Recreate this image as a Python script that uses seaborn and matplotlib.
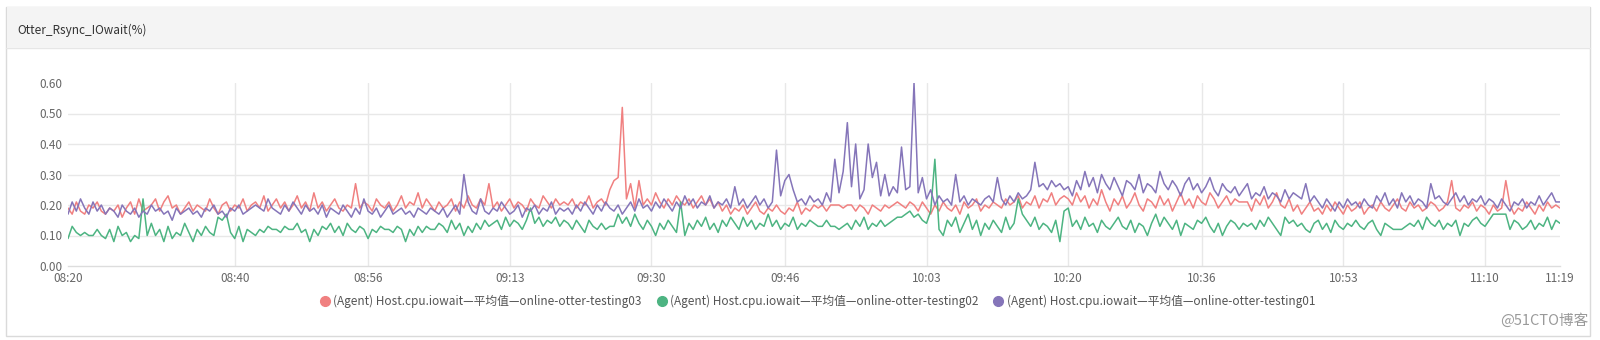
import numpy as np
import pandas as pd
import matplotlib
matplotlib.use("Agg")
import matplotlib.pyplot as plt
from matplotlib.patches import Rectangle
from matplotlib.lines import Line2D
import seaborn as sns

# ---------------- data ----------------
title = "Otter_Rsync_IOwait(%)"
start_time = "2019-01-01 08:20:00"
step_seconds = 30

series_names = [
    "(Agent) Host.cpu.iowait—平均值—online-otter-testing03",
    "(Agent) Host.cpu.iowait—平均值—online-otter-testing02",
    "(Agent) Host.cpu.iowait—平均值—online-otter-testing01",
]
series_colors = ["#F08080", "#4DB482", "#8575B9"]

testing03 = [
    0.19,0.17,0.21,0.18,0.17,0.20,0.19,0.21,0.18,0.17,
    0.19,0.18,0.20,0.16,0.19,0.21,0.17,0.22,0.18,0.19,
    0.20,0.22,0.18,0.21,0.23,0.19,0.20,0.17,0.19,0.21,
    0.18,0.20,0.19,0.18,0.22,0.19,0.17,0.20,0.21,0.18,
    0.20,0.19,0.22,0.18,0.20,0.21,0.19,0.23,0.18,0.20,
    0.22,0.19,0.21,0.18,0.20,0.23,0.19,0.21,0.18,0.24,
    0.19,0.21,0.18,0.20,0.22,0.19,0.18,0.20,0.19,0.27,
    0.19,0.21,0.20,0.18,0.22,0.20,0.19,0.21,0.18,0.20,
    0.23,0.19,0.21,0.20,0.24,0.19,0.22,0.20,0.18,0.21,
    0.19,0.20,0.22,0.18,0.21,0.19,0.23,0.20,0.19,0.22,
    0.20,0.27,0.19,0.21,0.18,0.20,0.22,0.19,0.21,0.20,
    0.18,0.22,0.20,0.19,0.23,0.21,0.19,0.22,0.20,0.21,
    0.20,0.22,0.19,0.21,0.20,0.23,0.19,0.21,0.22,0.20,
    0.25,0.28,0.29,0.52,0.22,0.27,0.19,0.28,0.20,0.22,
    0.20,0.24,0.21,0.19,0.22,0.20,0.23,0.21,0.20,0.22,
    0.19,0.21,0.23,0.20,0.22,0.19,0.21,0.18,0.20,0.17,
    0.19,0.18,0.20,0.17,0.19,0.21,0.18,0.17,0.19,0.18,
    0.20,0.18,0.17,0.19,0.18,0.21,0.17,0.19,0.18,0.20,
    0.19,0.20,0.18,0.20,0.20,0.20,0.19,0.20,0.20,0.18,
    0.20,0.19,0.17,0.20,0.19,0.18,0.20,0.19,0.20,0.21,
    0.20,0.19,0.21,0.20,0.18,0.21,0.19,0.17,0.20,0.18,
    0.21,0.19,0.18,0.20,0.17,0.21,0.19,0.20,0.22,0.18,
    0.20,0.19,0.21,0.20,0.19,0.22,0.20,0.21,0.23,0.19,
    0.21,0.20,0.23,0.19,0.22,0.21,0.24,0.20,0.22,0.23,
    0.22,0.20,0.24,0.21,0.23,0.19,0.22,0.20,0.25,0.21,
    0.18,0.22,0.20,0.23,0.19,0.21,0.24,0.20,0.18,0.22,
    0.21,0.19,0.23,0.20,0.22,0.18,0.21,0.24,0.20,0.22,
    0.19,0.23,0.21,0.20,0.24,0.22,0.19,0.21,0.23,0.20,
    0.22,0.21,0.21,0.21,0.18,0.22,0.20,0.23,0.19,0.21,
    0.24,0.20,0.19,0.22,0.18,0.20,0.17,0.19,0.21,0.18,
    0.19,0.17,0.20,0.18,0.21,0.19,0.17,0.20,0.18,0.19,
    0.21,0.17,0.19,0.20,0.18,0.21,0.19,0.18,0.20,0.22,
    0.19,0.18,0.21,0.19,0.20,0.18,0.19,0.21,0.20,0.18,
    0.19,0.21,0.28,0.19,0.18,0.20,0.19,0.21,0.18,0.20,
    0.19,0.17,0.20,0.18,0.19,0.28,0.20,0.17,0.19,0.18,
    0.21,0.19,0.17,0.20,0.18,0.21,0.19,0.20,0.19,
]

testing02 = [
    0.09,0.13,0.11,0.10,0.11,0.10,0.10,0.12,0.10,0.09,
    0.12,0.08,0.13,0.10,0.11,0.08,0.10,0.09,0.22,0.10,
    0.14,0.10,0.12,0.08,0.13,0.09,0.11,0.10,0.14,0.11,
    0.08,0.12,0.10,0.13,0.11,0.10,0.16,0.15,0.17,0.11,
    0.09,0.13,0.08,0.12,0.11,0.10,0.12,0.11,0.13,0.12,
    0.12,0.11,0.13,0.12,0.12,0.14,0.11,0.12,0.08,0.12,
    0.10,0.13,0.12,0.14,0.11,0.13,0.10,0.14,0.12,0.11,
    0.13,0.12,0.09,0.12,0.11,0.13,0.12,0.12,0.11,0.13,
    0.12,0.08,0.12,0.10,0.13,0.11,0.13,0.12,0.12,0.14,
    0.13,0.11,0.15,0.12,0.14,0.10,0.13,0.11,0.14,0.12,
    0.15,0.13,0.14,0.15,0.12,0.16,0.13,0.15,0.14,0.12,
    0.15,0.19,0.14,0.16,0.13,0.15,0.14,0.16,0.13,0.15,
    0.14,0.12,0.15,0.13,0.11,0.15,0.13,0.12,0.14,0.12,
    0.13,0.13,0.17,0.14,0.16,0.13,0.17,0.14,0.12,0.15,
    0.13,0.10,0.14,0.12,0.15,0.13,0.11,0.21,0.10,0.14,
    0.12,0.15,0.13,0.16,0.12,0.14,0.11,0.15,0.13,0.16,
    0.14,0.12,0.16,0.13,0.15,0.12,0.14,0.13,0.17,0.13,
    0.15,0.12,0.14,0.13,0.16,0.12,0.14,0.13,0.15,0.14,
    0.13,0.13,0.15,0.13,0.13,0.12,0.13,0.14,0.12,0.15,
    0.13,0.16,0.12,0.14,0.13,0.15,0.13,0.14,0.15,0.16,
    0.16,0.17,0.18,0.16,0.17,0.15,0.14,0.18,0.35,0.12,
    0.10,0.15,0.13,0.16,0.11,0.14,0.17,0.12,0.15,0.10,
    0.14,0.12,0.15,0.13,0.11,0.16,0.12,0.14,0.22,0.17,
    0.15,0.13,0.16,0.12,0.14,0.13,0.11,0.15,0.08,0.18,
    0.19,0.13,0.15,0.12,0.16,0.13,0.14,0.11,0.15,0.13,
    0.12,0.14,0.16,0.13,0.12,0.15,0.11,0.14,0.13,0.10,
    0.14,0.17,0.13,0.16,0.14,0.12,0.15,0.10,0.14,0.13,
    0.12,0.15,0.14,0.16,0.13,0.11,0.14,0.10,0.13,0.15,
    0.14,0.12,0.14,0.13,0.14,0.12,0.15,0.13,0.16,0.14,
    0.12,0.10,0.16,0.14,0.15,0.13,0.14,0.12,0.11,0.14,
    0.15,0.12,0.14,0.11,0.15,0.13,0.12,0.14,0.13,0.15,
    0.13,0.12,0.14,0.15,0.12,0.10,0.14,0.13,0.12,0.12,
    0.12,0.13,0.14,0.13,0.15,0.12,0.16,0.14,0.13,0.15,
    0.12,0.14,0.13,0.15,0.10,0.14,0.13,0.15,0.16,0.14,
    0.13,0.15,0.17,0.17,0.17,0.17,0.12,0.15,0.14,0.12,
    0.13,0.15,0.12,0.14,0.13,0.16,0.12,0.15,0.14,
]

testing01 = [
    0.17,0.21,0.18,0.22,0.19,0.17,0.21,0.18,0.20,0.17,
    0.19,0.18,0.16,0.20,0.18,0.17,0.19,0.16,0.18,0.17,
    0.20,0.18,0.19,0.17,0.18,0.15,0.19,0.17,0.18,0.19,
    0.17,0.18,0.16,0.19,0.18,0.20,0.17,0.18,0.16,0.19,
    0.18,0.20,0.17,0.18,0.19,0.20,0.19,0.18,0.22,0.19,
    0.18,0.17,0.20,0.18,0.21,0.19,0.17,0.20,0.18,0.19,
    0.17,0.20,0.16,0.19,0.18,0.17,0.20,0.18,0.16,0.19,
    0.17,0.22,0.18,0.17,0.19,0.16,0.18,0.20,0.17,0.18,
    0.19,0.17,0.18,0.16,0.19,0.18,0.17,0.19,0.18,0.17,
    0.19,0.16,0.18,0.20,0.17,0.30,0.21,0.18,0.17,0.22,
    0.18,0.17,0.19,0.18,0.21,0.19,0.17,0.18,0.20,0.16,
    0.19,0.18,0.20,0.17,0.19,0.18,0.21,0.17,0.19,0.18,
    0.19,0.17,0.20,0.18,0.21,0.19,0.17,0.20,0.18,0.21,
    0.19,0.18,0.20,0.17,0.19,0.21,0.18,0.22,0.19,0.20,
    0.18,0.21,0.19,0.22,0.20,0.18,0.21,0.19,0.23,0.20,
    0.22,0.19,0.21,0.20,0.23,0.19,0.21,0.20,0.22,0.19,
    0.26,0.20,0.22,0.19,0.21,0.23,0.20,0.22,0.19,0.21,
    0.38,0.23,0.28,0.30,0.25,0.21,0.22,0.20,0.23,0.21,
    0.22,0.20,0.24,0.21,0.35,0.24,0.31,0.47,0.26,0.40,
    0.22,0.25,0.40,0.29,0.34,0.23,0.30,0.23,0.26,0.24,
    0.39,0.25,0.26,0.60,0.24,0.29,0.22,0.25,0.20,0.23,
    0.21,0.22,0.20,0.30,0.21,0.23,0.20,0.22,0.21,0.20,
    0.22,0.23,0.21,0.29,0.22,0.20,0.23,0.21,0.24,0.22,
    0.23,0.25,0.34,0.26,0.27,0.25,0.28,0.26,0.27,0.25,
    0.26,0.23,0.28,0.25,0.31,0.26,0.29,0.24,0.30,0.27,
    0.25,0.29,0.26,0.23,0.28,0.27,0.25,0.30,0.24,0.27,
    0.26,0.24,0.31,0.27,0.25,0.28,0.26,0.23,0.27,0.29,
    0.25,0.27,0.24,0.26,0.29,0.25,0.23,0.27,0.25,0.24,
    0.26,0.23,0.25,0.27,0.22,0.24,0.23,0.26,0.22,0.24,
    0.23,0.21,0.25,0.22,0.24,0.23,0.22,0.27,0.21,0.23,
    0.21,0.19,0.22,0.20,0.18,0.21,0.19,0.22,0.20,0.21,
    0.19,0.22,0.20,0.19,0.23,0.21,0.24,0.20,0.22,0.19,
    0.24,0.21,0.23,0.20,0.22,0.21,0.19,0.27,0.22,0.23,
    0.21,0.20,0.22,0.24,0.21,0.23,0.20,0.22,0.21,0.23,
    0.20,0.22,0.21,0.19,0.22,0.20,0.18,0.21,0.20,0.22,
    0.19,0.21,0.20,0.23,0.20,0.22,0.24,0.21,0.21,
]

x_tick_labels = ["08:20", "08:40", "08:56", "09:13", "09:30", "09:46",
                 "10:03", "10:20", "10:36", "10:53", "11:10", "11:19"]
y_ticks = [0.0, 0.1, 0.2, 0.3, 0.4, 0.5, 0.6]
watermark = "@51CTO博客"

# ---------------- build frame ----------------
n = len(testing03)
assert len(testing02) == n and len(testing01) == n
times = pd.date_range(start_time, periods=n, freq=f"{step_seconds}s")
df = pd.DataFrame({
    "time": np.concatenate([times, times, times]),
    "value": testing03 + testing02 + testing01,
    "series": np.repeat(series_names, n),
})

sns.set_style("white")
plt.rcParams["font.family"] = ["Noto Sans CJK SC", "DejaVu Sans"]

W, H = 1600, 340
fig = plt.figure(figsize=(W / 100, H / 100), dpi=100)
fig.patch.set_facecolor("white")

def fx(px):
    return px / W

def fy(py):
    return 1 - py / H

# panel frame + header band (behind the axes)
fig.patches.append(Rectangle((fx(6), fy(336)), fx(1590 - 6), (336 - 7) / H,
                             transform=fig.transFigure, facecolor="white",
                             edgecolor="#DADADA", lw=1.0, zorder=-2))
fig.patches.append(Rectangle((fx(6.5), fy(48)), fx(1590 - 7), (48 - 7.5) / H,
                             transform=fig.transFigure, facecolor="#F4F4F4",
                             edgecolor="none", zorder=-1))
fig.lines.append(Line2D([fx(6), fx(1590)], [fy(48), fy(48)], transform=fig.transFigure,
                        color="#E6E6E6", lw=1.0, zorder=-1))
fig.text(fx(17), fy(30), title, ha="left", va="center", fontsize=8.5, color="#333333")

ax = fig.add_axes([fx(68), fy(266), fx(1560 - 68), (266 - 83) / H])
ax.set_zorder(1)
ax.patch.set_alpha(0)

palette = dict(zip(series_names, series_colors))
sns.lineplot(data=df, x="time", y="value", hue="series", hue_order=series_names,
             palette=palette, linewidth=1.1, estimator=None, legend=False, ax=ax)

ax.set_xlim(times[0], times[-1])
ax.set_ylim(0, 0.6)
tick_pos = pd.to_datetime([start_time[:11] + t + ":00" for t in x_tick_labels])
ax.set_xticks(tick_pos)
ax.set_xticklabels(x_tick_labels)
ax.set_yticks(y_ticks)
ax.set_yticklabels([f"{v:.2f}" for v in y_ticks])
ax.set_xlabel("")
ax.set_ylabel("")
ax.tick_params(axis="both", length=0, labelsize=8.5, colors="#666666")
ax.tick_params(axis="x", pad=4.5)
ax.tick_params(axis="y", pad=4)

ax.grid(True, color="#E8E8E8", lw=1.0)
ax.set_axisbelow(True)
xg = ax.get_xgridlines()
xg[0].set_visible(False)
xg[-1].set_visible(False)
yg = ax.get_ygridlines()
yg[-1].set_visible(False)
yg[0].set_visible(False)

for s in ["top", "right", "left"]:
    ax.spines[s].set_visible(False)
ax.spines["bottom"].set_color("#DDDDDD")
ax.spines["bottom"].set_linewidth(1.0)

handles = [Line2D([], [], marker="o", linestyle="none", markersize=7,
                  markerfacecolor=c, markeredgecolor=c) for c in series_colors]
fig.legend(handles, series_names, loc="center", bbox_to_anchor=(fx(817), fy(301)),
           ncol=3, frameon=False, fontsize=8.5, handletextpad=0.2, columnspacing=1.2,
           handlelength=1.0, labelcolor="#555555")

fig.text(fx(1588), fy(321), watermark, ha="right", va="center", fontsize=10.5,
         color="#9A9A9A")

fig.savefig("out.png", dpi=100, facecolor="white")
